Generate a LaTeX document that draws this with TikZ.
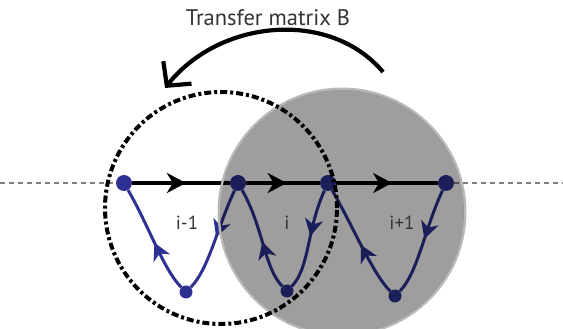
\documentclass[tikz,border=0pt]{standalone}
\usepackage{fontspec}
\setsansfont{PT Sans}
\usetikzlibrary{arrows.meta,decorations.markings}
\begin{document}
\begin{tikzpicture}[x=1pt,y=1pt,line join=round]
	\definecolor{chainblue}{RGB}{46,49,146}
	\definecolor{cellgrey}{RGB}{158,158,158}
	\definecolor{fringegrey}{RGB}{185,185,185}
	\definecolor{labelgrey}{RGB}{51,51,51}
	\tikzset{
		site/.style={circle,fill=chainblue,inner sep=0pt,minimum size=16pt},
		lowsite/.style={site,minimum size=13pt},
		bond/.style={line width=3.3pt,postaction={decorate},
			decoration={markings,mark=at position .55 with {\arrow{Stealth[length=19pt,width=20pt,inset=6pt]}}}},
		hop/.style={chainblue,line width=3pt,postaction={decorate},
			decoration={markings,mark=at position .47 with {\arrow{Stealth[length=17pt,width=18pt,inset=5pt]}}}},
		rail/.style={gray,line width=1.2pt,dash pattern=on 5pt off 4pt},
		cell/.style={font=\sffamily\fontsize{19}{19}\selectfont,text=labelgrey,anchor=base}
	}
	\useasboundingbox (0,0) rectangle (563,329);
	
	% sites on the chain
	\node[site] (t0) at (124,146) {};
	\node[site] (t1) at (238,146) {};
	\node[site] (t2) at (328,146) {};
	\node[site] (t3) at (446,146) {};
	\node[lowsite] (b1) at (186,37) {};
	\node[lowsite] (b2) at (287,38) {};
	\node[lowsite] (b3) at (395,33) {};
	\coordinate (west) at (0,146);
	\coordinate (east) at (563,146);
	
	\draw[rail] (west) -- (t0);
	\draw[rail] (t3) -- (east);
	\foreach \a/\b in {t0/t1,t1/t2,t2/t3}{
		\draw[bond] (\a) -- (\b);
	}
	
	% down and up again in every cell
	\foreach \a/\b/\c in {t1/b1/t0,t2/b2/t1,t3/b3/t2}{
		\draw[hop] (\a) .. controls +(-115:50) and +(45:32) .. (\b);
		\draw[hop] (\b) .. controls +(135:32) and +(-60:50) .. (\c);
	}
	
	% the shaded cell
	\draw[fringegrey,line width=2.5pt] (342,117) circle (123.2);
	\fill[cellgrey,blend mode=multiply] (342,117) circle (122);
	
	\draw[line width=4pt,dash pattern=on 7pt off 3pt on 3pt off 3pt] (221,121) circle (116);
	
	\coordinate (bfrom) at (383,257);
	\coordinate (bto) at (165,241);
	\draw[line width=4.2pt,-{Straight Barb[length=17pt,width=36pt]}] (bfrom) .. controls (330,320) and (220,310) .. (bto);
	\node[cell,font=\sffamily\fontsize{22.5}{22.5}\selectfont] (bname) at (268,303) {Transfer matrix B};
	
	\node[cell] (lab1) at (187,99) {i-1};
	\node[cell] (lab2) at (287,99) {i};
	\node[cell] (lab3) at (402,99) {i+1};
\end{tikzpicture}
\end{document}
